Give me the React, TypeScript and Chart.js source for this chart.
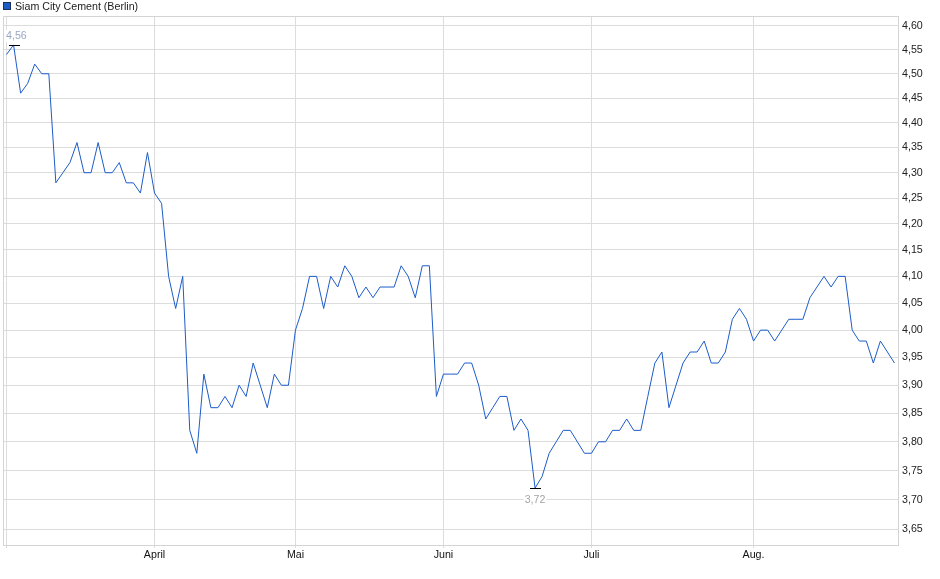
import { useEffect, useRef } from 'react'
import { Chart, registerables } from 'chart.js'

Chart.register(...registerables);

// daily closing prices (EUR), one per trading day
const prices = [
  4.54, 4.56, 4.46, 4.48, 4.52, 4.50, 4.50, 4.28, 4.30, 4.32,
  4.36, 4.30, 4.30, 4.36, 4.30, 4.30, 4.32, 4.28, 4.28, 4.26,
  4.34, 4.26, 4.24, 4.10, 4.04, 4.10, 3.82, 3.78, 3.92, 3.86,
  3.86, 3.88, 3.86, 3.90, 3.88, 3.94, 3.90, 3.86, 3.92, 3.90,
  3.90, 4.00, 4.04, 4.10, 4.10, 4.04, 4.10, 4.08, 4.12, 4.10,
  4.06, 4.08, 4.06, 4.08, 4.08, 4.08, 4.12, 4.10, 4.06, 4.12,
  4.12, 3.88, 3.92, 3.92, 3.92, 3.94, 3.94, 3.90, 3.84, 3.86,
  3.88, 3.88, 3.82, 3.84, 3.82, 3.72, 3.74, 3.78, 3.80, 3.82,
  3.82, 3.80, 3.78, 3.78, 3.80, 3.80, 3.82, 3.82, 3.84, 3.82,
  3.82, 3.88, 3.94, 3.96, 3.86, 3.90, 3.94, 3.96, 3.96, 3.98,
  3.94, 3.94, 3.96, 4.02, 4.04, 4.02, 3.98, 4.00, 4.00, 3.98,
  4.00, 4.02, 4.02, 4.02, 4.06, 4.08, 4.10, 4.08, 4.10, 4.10,
  4.00, 3.98, 3.98, 3.94, 3.98, 3.96, 3.94,
];

// index of the first trading day of each month
const monthStarts = [0, 21, 41, 62, 83, 106];
const monthLabels = ['', 'April', 'Mai', 'Juni', 'Juli', 'Aug.'];

const yTicks = [
  3.65, 3.70, 3.75, 3.80, 3.85, 3.90, 3.95, 4.00, 4.05, 4.10,
  4.15, 4.20, 4.25, 4.30, 4.35, 4.40, 4.45, 4.50, 4.55, 4.60,
];

const FONT = "'Liberation Sans', Arial, sans-serif";
const SIZE = 10.67;
const fmt = (v: number) => v.toFixed(2).replace('.', ',');

// plot frame on top + left side (axes only draw their own side)
const framePlugin = {
  id: 'frame',
  beforeDatasetsDraw(chart: Chart) {
    const { ctx, chartArea: a } = chart;
    ctx.save();
    ctx.strokeStyle = '#d4d4d4';
    ctx.lineWidth = 1;
    ctx.beginPath();
    ctx.moveTo(a.left + 0.5, a.bottom);
    ctx.lineTo(a.left + 0.5, a.top + 0.5);
    ctx.lineTo(a.right, a.top + 0.5);
    ctx.stroke();
    ctx.restore();
  },
};

// high / low markers with value labels
const extremesPlugin = {
  id: 'extremes',
  afterDatasetsDraw(chart: Chart) {
    const { ctx } = chart;
    const xs = chart.scales.x;
    const ys = chart.scales.y;
    const hi = Math.max(...prices);
    const lo = Math.min(...prices);
    const marks = [
      { i: prices.indexOf(hi), v: hi, up: true, color: '#9aa6c4' },
      { i: prices.indexOf(lo), v: lo, up: false, color: '#a3a3a3' },
    ];
    ctx.save();
    ctx.font = `${SIZE}px ${FONT}`;
    ctx.textAlign = 'center';
    ctx.textBaseline = 'middle';
    for (const m of marks) {
      const px = Math.round(xs.getPixelForValue(m.i));
      const py = Math.round(ys.getPixelForValue(m.v));
      const txt = fmt(m.v);
      const tw = ctx.measureText(txt).width;
      const ty = m.up ? py - 9 : py + 12;
      const tx = Math.max(px, chart.chartArea.left + tw / 2 + 3);
      ctx.fillStyle = '#ffffff';
      ctx.fillRect(tx - tw / 2 - 1, ty - 6, tw + 2, 12);
      ctx.fillStyle = m.color;
      ctx.fillText(txt, tx, ty);
      ctx.strokeStyle = '#000000';
      ctx.lineWidth = 1;
      ctx.beginPath();
      ctx.moveTo(px - 5, py + 0.5);
      ctx.lineTo(px + 6, py + 0.5);
      ctx.stroke();
    }
    ctx.restore();
  },
};

export default function App() {
  const canvasRef = useRef<HTMLCanvasElement>(null);
  const chartRef = useRef<Chart | null>(null);

  useEffect(() => {
    if (!canvasRef.current) return;
    chartRef.current?.destroy();
    chartRef.current = new Chart(canvasRef.current, {
      type: 'line',
      data: {
        datasets: [{
          label: 'Siam City Cement (Berlin)',
          data: prices.map((p, i) => ({ x: i, y: p })),
          borderColor: '#1c5cc8',
          borderWidth: 1,
          pointRadius: 0,
          tension: 0,
          fill: false,
        }],
      },
      options: {
        animation: false,
        responsive: false,
        devicePixelRatio: 1,
        layout: { padding: { top: 16, left: 3, right: 0, bottom: 0 } },
        plugins: {
          legend: { display: false },
          tooltip: { enabled: false },
        },
        scales: {
          x: {
            type: 'linear',
            min: -0.5,
            max: 126.5,
            afterBuildTicks: (s: any) => { s.ticks = monthStarts.map(v => ({ value: v })); },
            afterFit: (s: any) => { s.height = 34; },
            ticks: {
              autoSkip: false,
              maxRotation: 0,
              padding: 1,
              color: '#111',
              font: { family: FONT, size: SIZE },
              callback: (v: any) => monthLabels[monthStarts.indexOf(Number(v))] ?? '',
            },
            grid: { color: '#dcdcdc', tickLength: 3 },
            border: { color: '#d4d4d4' },
          },
          y: {
            type: 'logarithmic',
            position: 'right',
            min: 3.624,
            max: 4.621,
            afterBuildTicks: (s: any) => { s.ticks = yTicks.map(v => ({ value: v })); },
            afterFit: (s: any) => { s.width = 42; },
            ticks: {
              autoSkip: false,
              padding: 4,
              color: '#222',
              font: { family: FONT, size: SIZE },
              callback: (v: any) => fmt(Number(v)),
            },
            grid: { color: '#dcdcdc', drawTicks: false },
            border: { color: '#d4d4d4' },
          },
        },
      },
      plugins: [framePlugin, extremesPlugin],
    });
    return () => { chartRef.current?.destroy(); chartRef.current = null; };
  }, []);

  return (
    <div style={{ position: 'absolute', left: 0, top: 0, width: 940, height: 579, background: '#fff', fontFamily: FONT }}>
      <div style={{ position: 'absolute', left: 3, top: 0, display: 'flex', alignItems: 'center', height: 12, fontSize: SIZE, color: '#222', whiteSpace: 'nowrap' }}>
        <span style={{ display: 'inline-block', width: 6, height: 6, background: '#1c5cc8', border: '1px solid #1a2f5a', marginRight: 4 }} />
        Siam City Cement (Berlin)
      </div>
      <canvas ref={canvasRef} width={940} height={579} style={{ display: 'block' }} />
    </div>
  );
}
